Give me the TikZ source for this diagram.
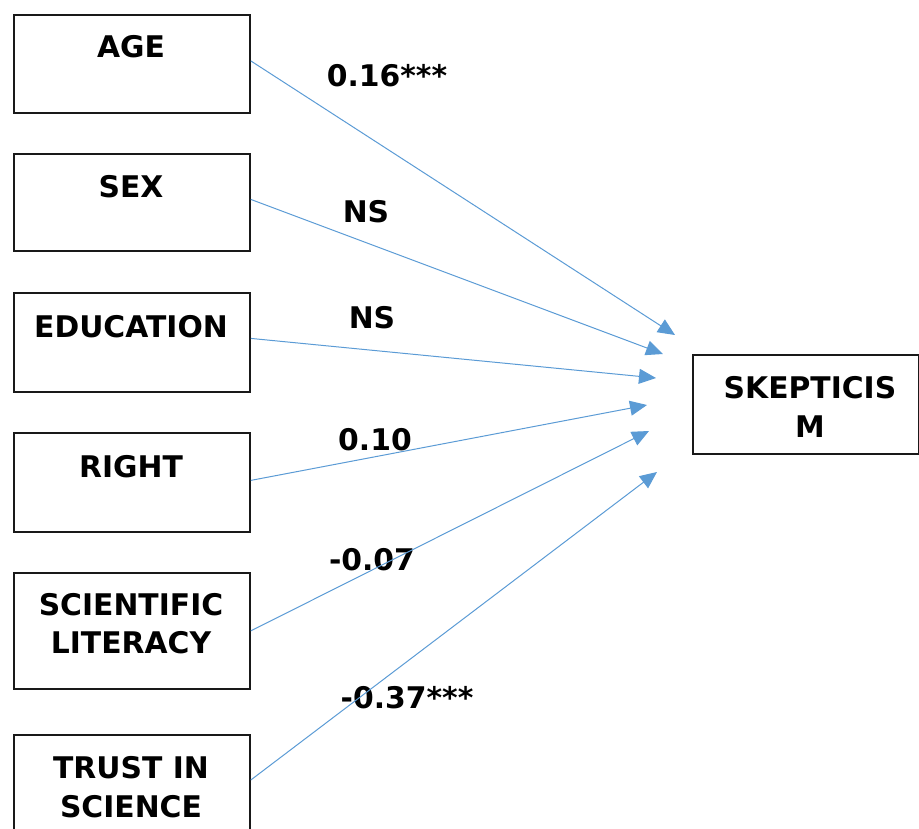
\documentclass[tikz,border=0pt]{standalone}
\usepackage{fontspec}
\setmainfont{DejaVu Sans}
\usetikzlibrary{arrows.meta}
\definecolor{arrowblue}{RGB}{91,155,213}
\begin{document}
\begin{tikzpicture}[x=1pt,y=-1pt,
  box/.style={draw=black!90, line width=1.8pt, minimum width=236pt, anchor=north west, inner sep=0pt},
  txt/.style={font=\fontsize{29.8}{38}\selectfont\bfseries, anchor=base, inner sep=0pt},
  effect/.style={draw=arrowblue, line width=1pt, -{Triangle[length=17pt,width=15pt]}}
]
\useasboundingbox (0,0) rectangle (919,828);
% boxes
\node[box, minimum height=98pt] (age) at (13,14) {};
\node[box, minimum height=97pt] (sex) at (13,153) {};
\node[box, minimum height=99pt] (edu) at (13,292) {};
\node[box, minimum height=99pt] (right) at (13,432) {};
\node[box, minimum height=116pt] (scilit) at (13,572) {};
\node[box, minimum height=130pt] (trust) at (13,734) {};
\node[box, minimum width=226pt, minimum height=99pt] (skep) at (692,354) {};
% box texts
\node[txt] (ageT) at (131,57) {AGE};
\node[txt] (sexT) at (131,197) {SEX};
\node[txt] (eduT) at (131,337) {EDUCATION};
\node[txt] (rightT) at (131,477) {RIGHT};
\node[txt] (scilitA) at (131,615) {SCIENTIFIC};
\node[txt] (scilitB) at (131,653) {LITERACY};
\node[txt] (trustA) at (131,778) {TRUST IN};
\node[txt] (trustB) at (131,817) {SCIENCE};
\node[txt] (skepA) at (810,398) {SKEPTICIS};
\node[txt] (skepB) at (810,437) {M};
% coefficient labels
\node[txt] (l1) at (387,86) {0.16***};
\node[txt] (l2) at (366,222) {NS};
\node[txt] (l3) at (372,328) {NS};
\node[txt] (l4) at (375,450) {0.10};
\node[txt] (l5) at (372,570) {-0.07};
\node[txt] (l6) at (407,708) {-0.37***};
% arrow tips (free ends)
\coordinate (e1) at (675,335);
\coordinate (e2) at (663,354);
\coordinate (e3) at (656,378);
\coordinate (e4) at (647,405);
\coordinate (e5) at (649,431);
\coordinate (e6) at (657,472);
% connectors
\draw[effect] ([yshift=3pt]age.east) -- (e1);
\draw[effect] ([yshift=3pt]sex.east) -- (e2);
\draw[effect] ([yshift=4pt]edu.east) -- (e3);
\draw[effect] ([yshift=2pt]right.east) -- (e4);
\draw[effect] (scilit.east) -- (e5);
\draw[effect] ([yshift=-46pt]trust.north east) -- (e6);
\end{tikzpicture}
\end{document}
